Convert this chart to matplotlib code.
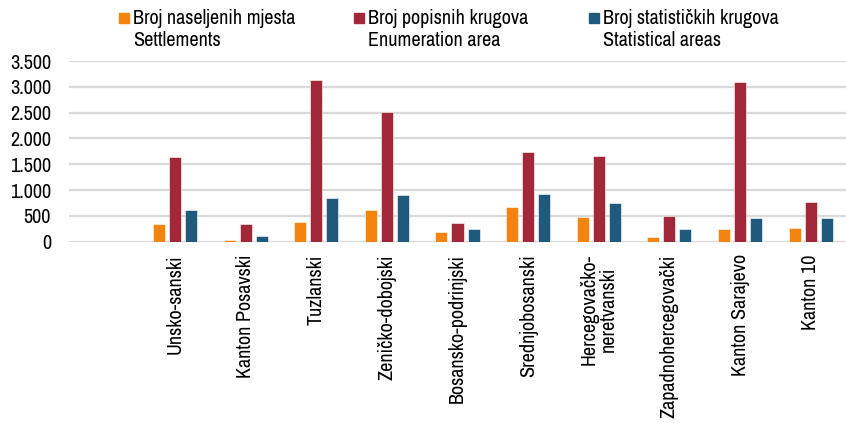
import matplotlib
matplotlib.use("Agg")
import matplotlib.pyplot as plt
import numpy as np
from matplotlib.patches import Rectangle
from matplotlib.ticker import FuncFormatter
from matplotlib import font_manager as fm

categories = ["Unsko-sanski", "Kanton Posavski", "Tuzlanski", "Zeničko-dobojski",
              "Bosansko-podrinjski", "Srednjobosanski", "Hercegovačko-\nneretvanski",
              "Zapadnohercegovački", "Kanton Sarajevo", "Kanton 10"]
settlements = [349, 33, 382, 614, 188, 666, 472, 97, 240, 260]
enumeration = [1635, 343, 3140, 2520, 357, 1744, 1661, 504, 3101, 775]
statistical = [614, 110, 847, 911, 246, 924, 756, 240, 459, 459]
series_labels = ["Broj naseljenih mjesta\nSettlements",
                 "Broj popisnih krugova\nEnumeration area",
                 "Broj statističkih krugova\nStatistical areas"]
colors = ["#f2840f", "#a12839", "#1f5a7d"]
yticks = [0, 500, 1000, 1500, 2000, 2500, 3000, 3500]

# prefer a narrow sans font if one is installed
narrow = None
for f in fm.fontManager.ttflist:
    if ("Narrow" in f.name or "Condensed" in f.name) and f.style == "normal" and f.weight in (400, "normal"):
        narrow = f.name
        break
if narrow:
    plt.rcParams['font.family'] = [narrow, "Liberation Sans", "DejaVu Sans"]
    FS = 14.5
else:
    plt.rcParams['font.family'] = ["Liberation Sans", "DejaVu Sans"]
    FS = 12

fig = plt.figure(figsize=(8.46, 4.23), dpi=100)
ax = fig.add_axes([69/846, 1-241.7/423, 1-69/846, (241.7-61)/423])

x = np.arange(1, len(categories) + 1)
w = 0.17
off = 0.227
for i, (vals, c) in enumerate(zip([settlements, enumeration, statistical], colors)):
    ax.bar(x + (i - 1) * off, vals, width=w, color=c, edgecolor="white",
           linewidth=0.4, zorder=3)

ax.set_xlim(-0.5, len(categories) + 0.5)
ax.set_ylim(0, 3500)
ax.set_yticks(yticks)
ax.yaxis.set_major_formatter(FuncFormatter(lambda v, p: f"{int(v):,}".replace(",", ".")))
ax.grid(axis="y", color="#d9d9d9", linewidth=1.6, zorder=0)
ax.set_axisbelow(True)
for s in ax.spines.values():
    s.set_visible(False)
ax.set_xticks(x)
ax.set_xticklabels(categories, rotation=90, ha="center", va="top",
                   multialignment="center", fontsize=FS, linespacing=1.0)
ax.tick_params(axis="x", length=0, pad=9)
ax.tick_params(axis="y", length=0, pad=13, labelsize=FS)

# legend (manual, handle aligned with first line)
leg_x = [119, 354, 589]
for lx, lab, c in zip(leg_x, series_labels, colors):
    fig.patches.append(Rectangle((lx/846, 1-23/423), 10/846, 10/423,
                                 transform=fig.transFigure, color=c, figure=fig))
    fig.text((lx+14)/846, 1-24.5/423, lab.split("\n")[0], fontsize=FS,
             ha="left", va="baseline")
    fig.text((lx+14)/846, 1-46.5/423, lab.split("\n")[1], fontsize=FS,
             ha="left", va="baseline")

fig.savefig("out.png", dpi=100)
